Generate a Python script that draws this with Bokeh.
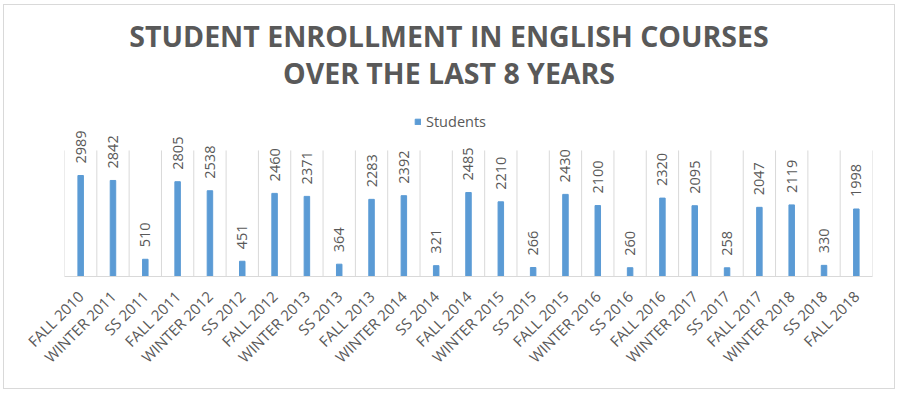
import math
from bokeh.plotting import figure
from bokeh.models import (Range1d, FixedTicker, ColumnDataSource, LabelSet, Label,
                          Legend, LegendItem)
from bokeh.core.properties import value
from bokeh.embed import file_html
from bokeh.resources import INLINE

terms = ["FALL 2010", "WINTER 2011", "SS 2011", "FALL 2011", "WINTER 2012", "SS 2012",
         "FALL 2012", "WINTER 2013", "SS 2013", "FALL 2013", "WINTER 2014", "SS 2014",
         "FALL 2014", "WINTER 2015", "SS 2015", "FALL 2015", "WINTER 2016", "SS 2016",
         "FALL 2016", "WINTER 2017", "SS 2017", "FALL 2017", "WINTER 2018", "SS 2018",
         "FALL 2018"]
students = [2989, 2842, 510, 2805, 2538, 451, 2460, 2371, 364, 2283, 2392, 321,
            2485, 2210, 266, 2430, 2100, 260, 2320, 2095, 258, 2047, 2119, 330, 1998]
title_lines = ["STUDENT ENROLLMENT IN ENGLISH COURSES", "OVER THE LAST 8 YEARS"]

FONT = "Open Sans"
GRAY = "#595959"
BLUE = "#5B9BD5"
LINE = "#D9D9D9"
PLOT_TOP = 3730   # top of the plot area (value units)
VIEW_TOP = 8020   # frame spans the whole chart height so nothing is clipped

n = len(terms)
xs = [i + 0.5 for i in range(n)]
src = ColumnDataSource(dict(x=xs, y=students, lab=[str(v) for v in students]))

p = figure(width=890, height=383, x_range=Range1d(0, n), y_range=Range1d(0, VIEW_TOP),
           output_backend="svg", toolbar_location=None, y_axis_location=None,
           min_border_left=60, min_border_right=22, min_border_bottom=112,
           min_border_top=0)
p.outline_line_color = None
p.styles = {"margin": "5px 0px 0px 4px", "outline": "1px solid #D9D9D9"}
p.xgrid.grid_line_color = None
p.ygrid.grid_line_color = None

# category separators
bounds = list(range(n + 1))
p.segment(x0=bounds, y0=[0] * len(bounds), x1=bounds, y1=[PLOT_TOP] * len(bounds),
          line_color=LINE, line_width=1)

r = p.vbar(x="x", top="y", width=0.17, source=src, color=BLUE)

labels = LabelSet(x="x", y="y", text="lab", source=src, angle=math.pi / 2,
                  text_align="left", text_baseline="middle", y_offset=12,
                  text_font=value(FONT), text_font_size=value("14.5px"),
                  text_color=GRAY)
p.add_layout(labels)

# axis
ax = p.xaxis[0]
ax.ticker = FixedTicker(ticks=xs)
ax.major_label_overrides = {x: t for x, t in zip(xs, terms)}
ax.major_label_orientation = math.pi / 4
ax.major_label_text_font = FONT
ax.major_label_text_font_size = "15px"
ax.major_label_text_color = GRAY
ax.major_label_standoff = 11
ax.axis_line_color = LINE
ax.major_tick_line_color = None
ax.minor_tick_line_color = None

legend = Legend(items=[LegendItem(label="Students", renderers=[r])],
                orientation="horizontal", location=(350, 145),
                label_text_font=FONT, label_text_font_size="14.5px", label_text_color=GRAY,
                glyph_width=7, glyph_height=7, label_standoff=5,
                border_line_color=None, background_fill_alpha=0,
                padding=2, margin=0)
p.add_layout(legend)

for txt, ypos in zip(title_lines, [241, 204]):
    p.add_layout(Label(x=384.5, y=ypos, x_units="screen", y_units="screen", text=txt,
                       text_align="center", text_baseline="middle", text_font=FONT,
                       text_font_size="28.5px", text_font_style="bold",
                       text_color=GRAY))

open("out.html", "w").write(file_html(p, INLINE))
